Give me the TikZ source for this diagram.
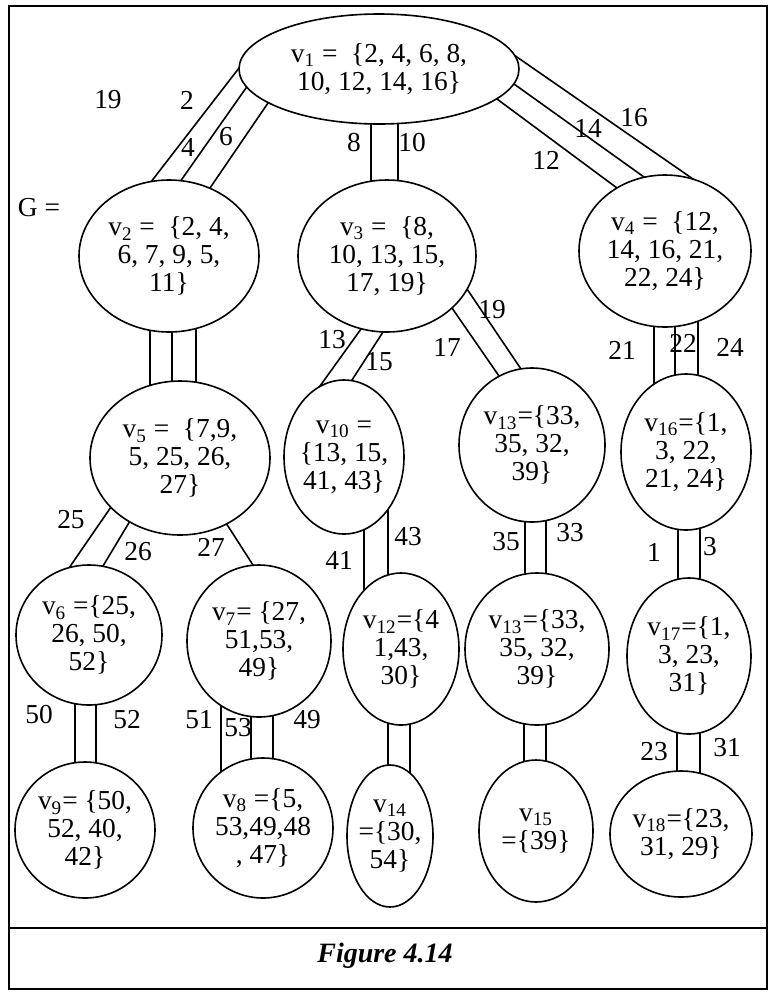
\documentclass[tikz,border=0pt]{standalone}
\usepackage{fontspec}
\setmainfont{Liberation Serif}
\usetikzlibrary{positioning, calc, shapes.geometric, backgrounds}

\newcommand{\setfont}{\fontsize{13.7}{14}\selectfont\lineskiplimit=-6pt\relax}
\newcommand{\vsub}[1]{v\textsubscript{#1}}

\tikzset{
  vset/.style={ellipse, draw, fill=white, line width=0.8pt, inner sep=-1pt, align=center, font=\setfont},
  rad/.style 2 args={minimum width=#1pt, minimum height=#2pt},
  elab/.style={inner sep=0pt, font=\setfont},
  wire/.style={line width=0.8pt, shorten <=-4pt, shorten >=-4pt},
}

\begin{document}
\begin{tikzpicture}[x=0.5pt, y=-0.5pt]
            \useasboundingbox (0,0) rectangle (770,992);

            % frame and caption box
            \coordinate (TL) at (9,6);
            \coordinate (BR) at (767,989);
            \draw[line width=1.2pt] (TL) rectangle (BR);
            \draw[line width=1.2pt] (9,928) -- (767,928);
            \node[font=\fontsize{14}{16}\selectfont\bfseries\itshape] (cap) at (385,956) {Figure 4.14};
            \node[elab] (G) at (39,208) {G =};

            % vertex sets
            \node[vset, rad={140}{55}] (v1) at (379,69) {\vsub{1} =~ \{2, 4, 6, 8,\\10, 12, 14, 16\}};
            \node[vset, rad={90}{76}] (v2) at (169,256) {\vsub{2} =~ \{2, 4,\\6, 7, 9, 5,\\11\}};
            \node[vset, rad={89}{76}] (v3) at (387,256) {\vsub{3} =~ \{8,\\10, 13, 15,\\17, 19\}};
            \node[vset, rad={86}{76}] (v4) at (665,251) {\vsub{4} =~ \{12,\\14, 16, 21,\\22, 24\}};
            \node[vset, rad={90}{77}] (v5) at (180,458) {\vsub{5} =~ \{7,9,\\5, 25, 26,\\27\}};
            \node[vset, rad={60}{77}] (v10) at (344,457) {\vsub{10} =\\\{13, 15,\\41, 43\}};
            \node[vset, rad={73}{77}] (v13a) at (532,445) {\vsub{13}=\{33,\\35, 32,\\39\}};
            \node[vset, rad={65}{78}] (v16) at (686,452) {\vsub{16}=\{1,\\3, 22,\\21, 24\}};
            \node[vset, rad={73}{70}] (v6) at (89,635) {\vsub{6} =\{25,\\26, 50,\\52\}};
            \node[vset, rad={72}{76}] (v7) at (259,641) {\vsub{7}= \{27,\\51,53,\\49\}};
            \node[vset, rad={58}{76}] (v12) at (401,649) {\vsub{12}=\{4\\1,43,\\30\}};
            \node[vset, rad={72}{76}] (v13b) at (537,649) {\vsub{13}=\{33,\\35, 32,\\39\}};
            \node[vset, rad={62}{78}] (v17) at (689,656) {\vsub{17}=\{1,\\3, 23,\\31\}};
            \node[vset, rad={70}{68}] (v9) at (85,830) {\vsub{9}= \{50,\\52, 40,\\42\}};
            \node[vset, rad={70}{70}] (v8) at (263,828) {\vsub{8} =\{5,\\53,49,48\\, 47\}};
            \node[vset, rad={43}{71}] (v14) at (390,836) {\vsub{14}\\=\{30,\\54\}};
            \node[vset, rad={57}{71}] (v15) at (536,831) {\vsub{15}\\=\{39\}};
            \node[vset, rad={71}{63}] (v18) at (681,834) {\vsub{18}=\{23,\\31, 29\}};

            % hyperedges as parallel strands
            \begin{pgfonlayer}{background}
            \draw[wire] ([shift={(-140,-1)}]v1.center) -- ([shift={(-15,-78)}]v2.center);
            \draw[wire] ([shift={(-133,19)}]v1.center) -- ([shift={(13,-77)}]v2.center);
            \draw[wire] ([shift={(-111,34)}]v1.center) -- ([shift={(41,-68)}]v2.center);
            \draw[wire] ([shift={(-8,55)}]v1.center) -- ([shift={(-16,-76)}]v3.center);
            \draw[wire] ([shift={(19,54)}]v1.center) -- ([shift={(11,-76)}]v3.center);
            \draw[wire] ([shift={(135,-14)}]v1.center) -- ([shift={(28,-72)}]v4.center);
            \draw[wire] ([shift={(135,15)}]v1.center) -- ([shift={(-21,-74)}]v4.center);
            \draw[wire] ([shift={(118,30)}]v1.center) -- ([shift={(-48,-63)}]v4.center);

            \draw[wire] ([shift={(-19,74)}]v2.center) -- ([shift={(-30,-72)}]v5.center);
            \draw[wire] ([shift={(3,76)}]v2.center) -- ([shift={(-8,-77)}]v5.center);
            \draw[wire] ([shift={(27,72)}]v2.center) -- ([shift={(16,-75)}]v5.center);
            \draw[wire] ([shift={(-26,73)}]v3.center) -- ([shift={(-24,-71)}]v10.center);
            \draw[wire] ([shift={(-4,76)}]v3.center) -- ([shift={(8,-77)}]v10.center);
            \draw[wire] ([shift={(65,52)}]v3.center) -- ([shift={(-33,-69)}]v13a.center);
            \draw[wire] ([shift={(80,33)}]v3.center) -- ([shift={(-11,-76)}]v13a.center);
            \draw[wire] ([shift={(-11,75)}]v4.center) -- ([shift={(-32,-68)}]v16.center);
            \draw[wire] ([shift={(10,75)}]v4.center) -- ([shift={(-11,-77)}]v16.center);
            \draw[wire] ([shift={(33,70)}]v4.center) -- ([shift={(12,-77)}]v16.center);

            \draw[wire] ([shift={(-69,49)}]v5.center) -- ([shift={(-20,-67)}]v6.center);
            \draw[wire] ([shift={(-50,63)}]v5.center) -- ([shift={(14,-69)}]v6.center);
            \draw[wire] ([shift={(46,65)}]v5.center) -- ([shift={(-6,-76)}]v7.center);
            \draw[wire] ([shift={(20,73)}]v10.center) -- ([shift={(-37,-58)}]v12.center);
            \draw[wire] ([shift={(44,52)}]v10.center) -- ([shift={(-13,-74)}]v12.center);
            \draw[wire] ([shift={(-7,77)}]v13a.center) -- ([shift={(-12,-75)}]v13b.center);
            \draw[wire] ([shift={(14,76)}]v13a.center) -- ([shift={(9,-75)}]v13b.center);
            \draw[wire] ([shift={(-8,77)}]v16.center) -- ([shift={(-11,-77)}]v17.center);
            \draw[wire] ([shift={(14,76)}]v16.center) -- ([shift={(11,-77)}]v17.center);

            \draw[wire] ([shift={(-14,69)}]v6.center) -- ([shift={(-10,-67)}]v9.center);
            \draw[wire] ([shift={(7,70)}]v6.center) -- ([shift={(11,-67)}]v9.center);
            \draw[wire] ([shift={(-38,65)}]v7.center) -- ([shift={(-42,-56)}]v8.center);
            \draw[wire] ([shift={(-8,75)}]v7.center) -- ([shift={(-12,-69)}]v8.center);
            \draw[wire] ([shift={(14,74)}]v7.center) -- ([shift={(10,-69)}]v8.center);
            \draw[wire] ([shift={(-13,74)}]v12.center) -- ([shift={(-2,-71)}]v14.center);
            \draw[wire] ([shift={(9,75)}]v12.center) -- ([shift={(20,-63)}]v14.center);
            \draw[wire] ([shift={(-13,75)}]v13b.center) -- ([shift={(-12,-69)}]v15.center);
            \draw[wire] ([shift={(9,75)}]v13b.center) -- ([shift={(10,-70)}]v15.center);
            \draw[wire] ([shift={(-12,76)}]v17.center) -- ([shift={(-4,-63)}]v18.center);
            \draw[wire] ([shift={(11,77)}]v17.center) -- ([shift={(19,-61)}]v18.center);
            \end{pgfonlayer}

            % strand labels
            \node[elab] (e19a) at (108,100) {19};
            \node[elab] (e2) at (187,100) {2};
            \node[elab] (e4) at (188,147) {4};
            \node[elab] (e6) at (226,137) {6};
            \node[elab] (e8) at (354,143) {8};
            \node[elab] (e10) at (412,143) {10};
            \node[elab] (e16) at (634,118) {16};
            \node[elab] (e14) at (588,128) {14};
            \node[elab] (e12) at (546,160) {12};
            \node[elab] (e13) at (332,340) {13};
            \node[elab] (e15) at (379,362) {15};
            \node[elab] (e17) at (447,347) {17};
            \node[elab] (e19b) at (492,310) {19};
            \node[elab] (e21) at (622,350) {21};
            \node[elab] (e22) at (683,343) {22};
            \node[elab] (e24) at (730,347) {24};
            \node[elab] (e25) at (71,520) {25};
            \node[elab] (e26) at (138,552) {26};
            \node[elab] (e27) at (211,547) {27};
            \node[elab] (e41) at (339,560) {41};
            \node[elab] (e43) at (408,537) {43};
            \node[elab] (e35) at (506,542) {35};
            \node[elab] (e33) at (570,533) {33};
            \node[elab] (e1) at (654,552) {1};
            \node[elab] (e3) at (710,547) {3};
            \node[elab] (e50) at (39,715) {50};
            \node[elab] (e52) at (127,720) {52};
            \node[elab] (e51) at (199,720) {51};
            \node[elab] (e53) at (238,728) {53};
            \node[elab] (e49) at (307,720) {49};
            \node[elab] (e23) at (654,752) {23};
            \node[elab] (e31) at (727,748) {31};
        \end{tikzpicture}
\end{document}
